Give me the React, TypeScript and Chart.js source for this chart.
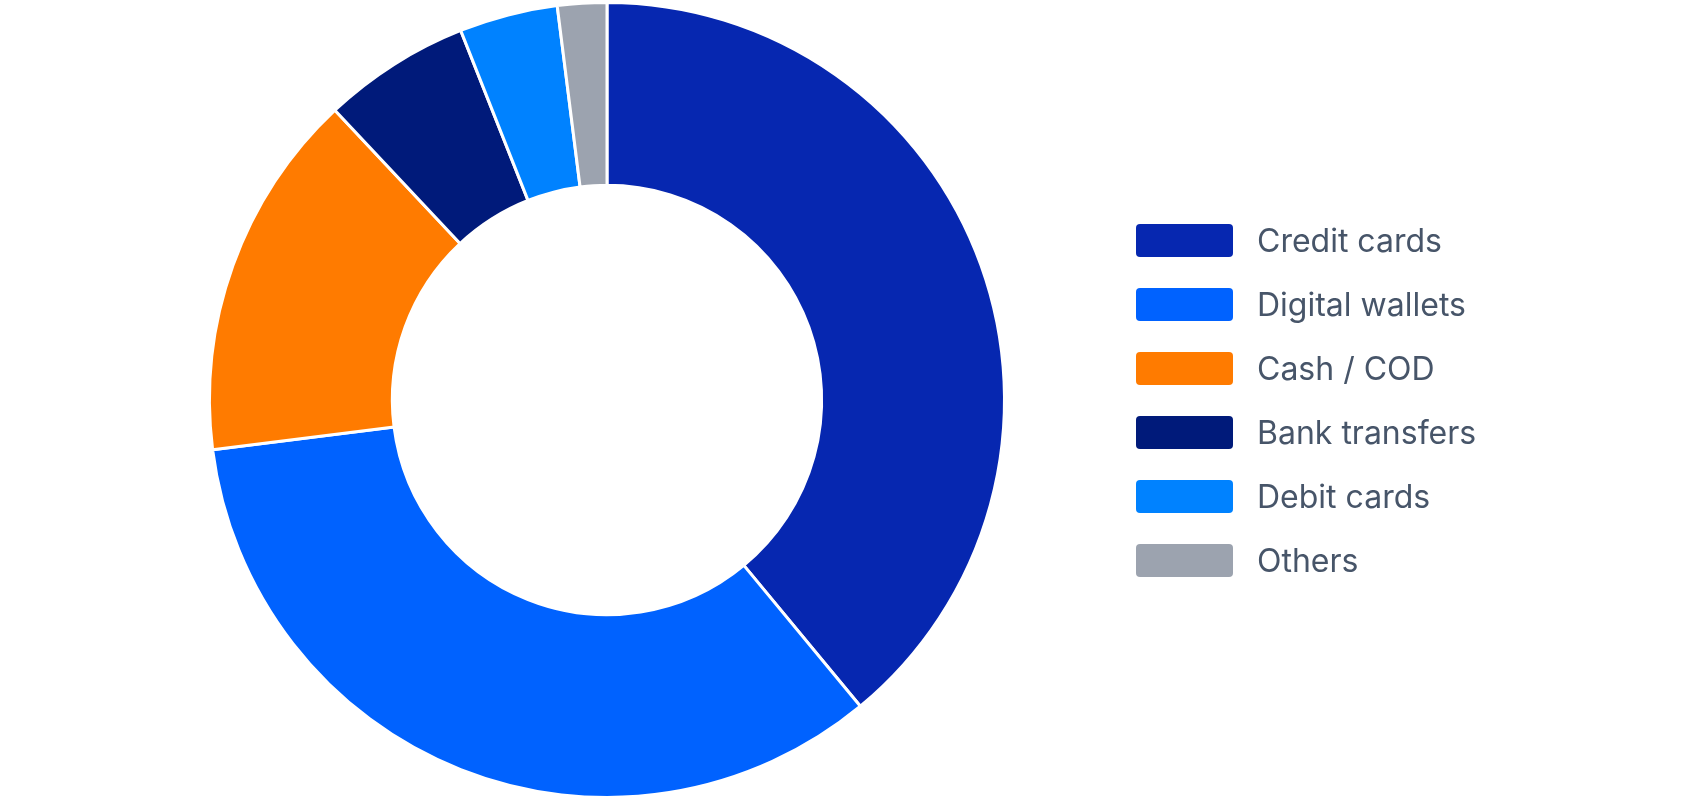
import { useEffect, useRef } from 'react'
import Chart from 'chart.js/auto'

// Payment methods share (%)
const methods = ['Credit cards', 'Digital wallets', 'Cash / COD', 'Bank transfers', 'Debit cards', 'Others']
const shares = [39, 34, 15, 6, 4, 2]
const colors = ['#0627b0', '#0062ff', '#ff7b00', '#001a7a', '#0082ff', '#9ca3af']

export default function App() {
  const chartRef = useRef<HTMLCanvasElement>(null)
  const chartInstance = useRef<Chart | null>(null)

  useEffect(() => {
    document.body.style.margin = '0'
    if (!chartRef.current) return

    if (chartInstance.current) {
      chartInstance.current.destroy()
    }

    const ctx = chartRef.current.getContext('2d')
    if (!ctx) return

    chartInstance.current = new Chart(ctx, {
      type: 'doughnut',
      data: {
        labels: methods,
        datasets: [{
          data: shares,
          backgroundColor: colors,
          borderWidth: 3,
          borderColor: '#fff'
        }]
      },
      options: {
        responsive: true,
        maintainAspectRatio: false,
        animation: false,
        cutout: '54%',
        layout: { padding: { top: 1, bottom: 1, left: 0, right: 474 } },
        plugins: {
          legend: { display: false },
          tooltip: { enabled: false }
        }
      }
    })

    return () => {
      if (chartInstance.current) {
        chartInstance.current.destroy()
        chartInstance.current = null
      }
    }
  }, [])

  return (
    <div style={{ position: 'relative', width: 1688, height: 800, background: '#fff' }}>
      <canvas ref={chartRef} />
      <div
        style={{
          position: 'absolute',
          left: 1136,
          top: 224,
          display: 'flex',
          flexDirection: 'column',
          gap: 31,
          fontFamily: 'Inter, "Noto Sans", sans-serif',
          fontSize: 32,
          color: '#475569'
        }}
      >
        {methods.map((m, i) => (
          <div key={m} style={{ display: 'flex', alignItems: 'center', height: 33 }}>
            <span
              style={{
                display: 'inline-block',
                width: 97,
                height: 33,
                borderRadius: 4,
                background: colors[i],
                marginRight: 24
              }}
            />
            <span style={{ lineHeight: 1 }}>{m}</span>
          </div>
        ))}
      </div>
    </div>
  )
}
